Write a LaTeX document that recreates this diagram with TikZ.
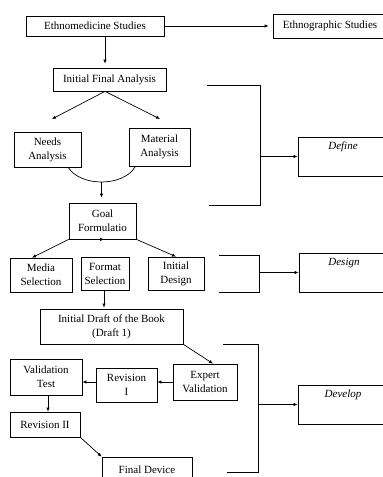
\documentclass[tikz,border=0pt]{standalone}
\usepackage{fontspec}
\setmainfont{Liberation Serif}
\usetikzlibrary{arrows.meta,positioning}

\begin{document}
\begin{tikzpicture}[
    x=1pt, y=-1pt,
    box/.style={draw, line width=0.7pt, align=center, inner sep=1pt, font=\fontsize{11}{14}\selectfont},
    phase/.style={draw, line width=0.7pt, minimum width=90pt, minimum height=39pt,
        label={[anchor=north, yshift=-2pt, font=\fontsize{11}{14}\selectfont\itshape]north:#1}},
    link/.style={-{Latex[length=4pt,width=3.5pt]}, line width=0.7pt},
    bracket/.style={line width=0.7pt}
]
\clip (0,0) rectangle (383,477);

% main flow
\node[box, minimum width=138pt, minimum height=20pt] (ethnomed) at (95,26) {Ethnomedicine Studies};
\node[box, minimum width=114pt, minimum height=24pt] (ethnograph) at (330,26) {Ethnographic Studies};
\node[box, minimum width=113pt, minimum height=23pt] (ifa) at (109.5,79.5) {Initial Final Analysis};
\node[box, minimum width=67pt, minimum height=35pt] (needs) at (47.5,149.5) {Needs\\Analysis};
\node[box, minimum width=61pt, minimum height=38pt] (material) at (159.5,147) {Material\\Analysis};
\node[box, minimum width=67pt, minimum height=36pt] (goal) at (102.5,221) {Goal\\Formulatio};

\node[box, minimum width=62pt, minimum height=34pt] (media) at (41,275) {Media\\Selection};
\node[box, minimum width=48pt, minimum height=33pt] (format) at (105,273.5) {Format\\Selection};
\node[box, minimum width=56pt, minimum height=33pt] (idesign) at (176,273.5) {Initial\\Design};

\node[box, minimum width=143pt, minimum height=35pt] (draft) at (111.5,326.5) {Initial Draft of the Book\\(Draft 1)};
\node[box, minimum width=64pt, minimum height=36pt] (expert) at (205,382) {Expert\\Validation};
\node[box, minimum width=61pt, minimum height=34pt] (rev1) at (126.5,385) {Revision\\I};
\node[box, minimum width=72pt, minimum height=36pt] (vtest) at (46,377) {Validation\\Test};
\node[box, minimum width=70pt, minimum height=25pt] (rev2) at (45,424.5) {Revision II};
\node[box, minimum width=90pt, minimum height=26pt] (final) at (147,470) {Final Device};

% phases
\node[phase=Define] (define) at (343,156.5) {};
\node[phase=Design] (design) at (344,272.5) {};
\node[phase=Develop] (develop) at (343,404.5) {};

% free ends
\coordinate (ifaL) at (52,119);
\coordinate (ifaR) at (160,119);
\coordinate (arcL) at (68,167);
\coordinate (arcR) at (135,167);
\coordinate (arcB) at (101.5,182);

\draw[link, shorten >=4pt] (ethnomed.east) -- (ethnograph.west);
\draw[link, shorten >=4pt] ([xshift=10pt]ethnomed.south) -- ([xshift=-4.5pt]ifa.north);
\draw[link] ([xshift=-4.5pt]ifa.south) -- (ifaL);
\draw[link] ([xshift=-4.5pt]ifa.south) -- (ifaR);
\draw[bracket] (arcL) .. controls (80,187) and (123,187) .. (arcR);
\draw[link, shorten >=5pt] (arcB) -- (arcB |- goal.north);

\draw[link] (goal.south west) -- ([xshift=-9pt]media.north);
\draw[link, shorten >=1pt] ([xshift=-0.5pt]goal.south) -- (goal.south -| format.north);
\draw[link] (goal.south east) -- (idesign.north);
\draw[link, shorten >=1pt] ([xshift=-1pt]format.south) -- ([xshift=-1pt]format.south |- draft.north);

\draw[link] (draft.south east) -- ([xshift=8pt]expert.north);
\draw[link] (expert.west) -- (expert.west -| rev1.east);
\draw[link] (expert.west -| rev1.west) -- (expert.west -| vtest.east);
\draw[link] ([xshift=2pt]vtest.south) -- ([xshift=2pt]vtest.south |- rev2.north);
\draw[link] (rev2.south east) -- (final.north west);

% brackets
\coordinate (defA) at (207,85);
\coordinate (defB) at (209,205);
\draw[bracket] (defA) -- (260,85) -- (260,205) -- (defB);
\draw[link] (260,156.5) -- (define.west);

\coordinate (desA) at (219,255);
\coordinate (desB) at (219,292);
\draw[bracket] (desA) -- (259,255) -- (259,292) -- (desB);
\draw[link] (259,272.5) -- (design.west);

\coordinate (devA) at (223,344);
\coordinate (devB) at (227,472);
\draw[bracket] (devA) -- (258,344) -- (258,472) -- (devB);
\draw[link] (258,404.5) -- (develop.west);

\end{tikzpicture}
\end{document}
